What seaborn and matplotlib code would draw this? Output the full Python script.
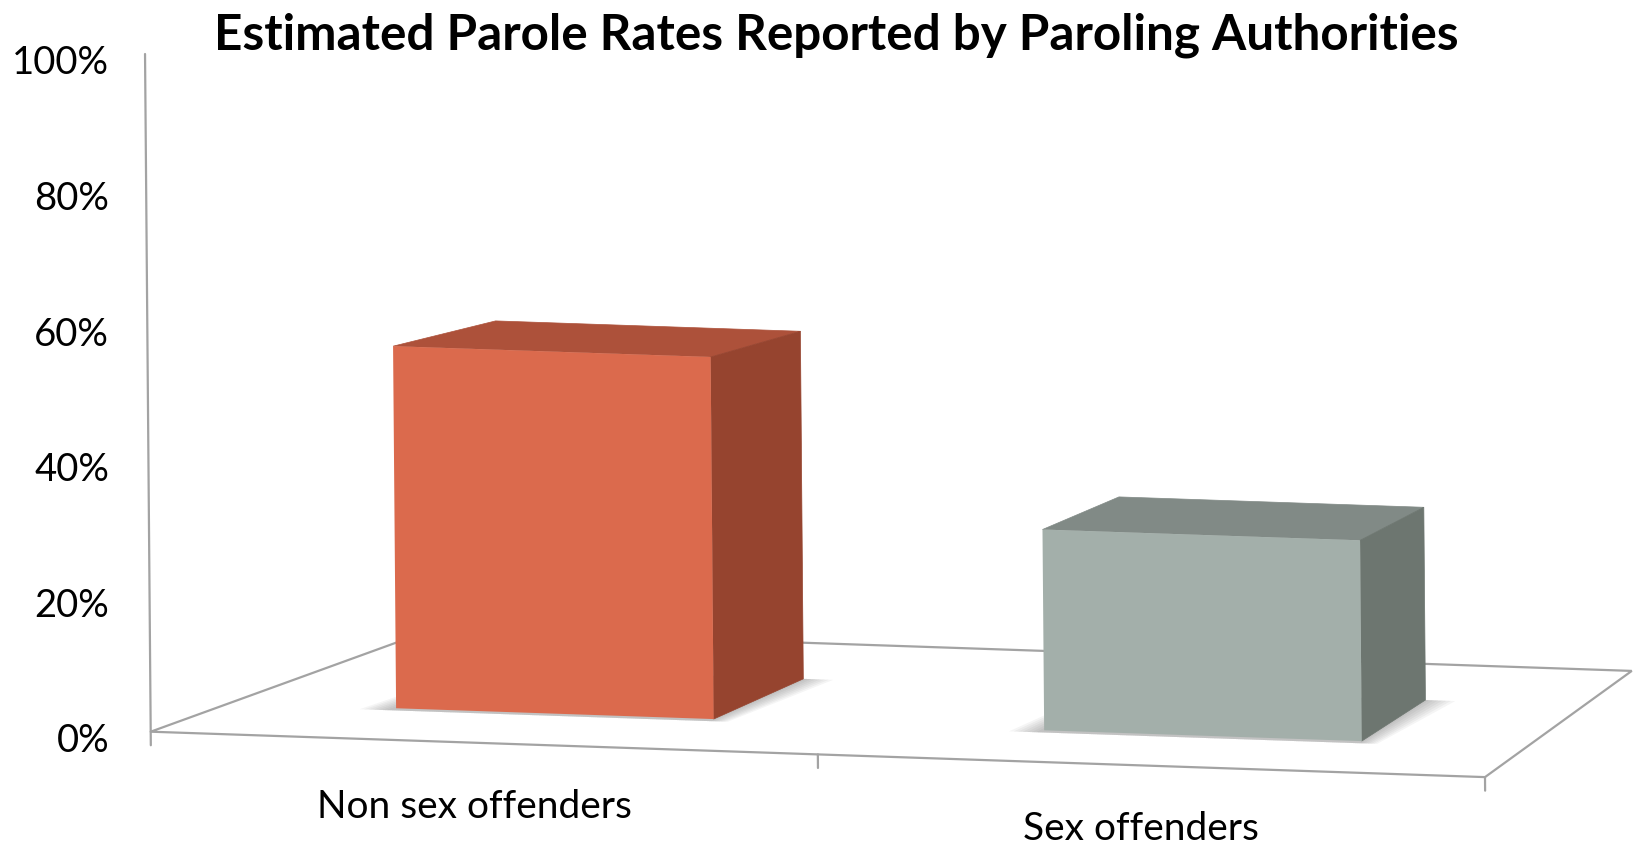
import numpy as np
import pandas as pd
import matplotlib
matplotlib.use("Agg")
import matplotlib.pyplot as plt
from matplotlib.patches import Polygon
from matplotlib.transforms import Affine2D, ScaledTranslation
import seaborn as sns

# ---- data -------------------------------------------------------------
categories = ["Non sex offenders", "Sex offenders"]
parole_rates = [0.55, 0.305]
front_colors = ["#DB6A4D", "#A3AFAA"]
top_colors = ["#AD513A", "#818A86"]
side_colors = ["#96442F", "#6D7670"]
y_ticks = [0.0, 0.2, 0.4, 0.6, 0.8, 1.0]
y_tick_labels = ["0%", "20%", "40%", "60%", "80%", "100%"]
title = "Estimated Parole Rates Reported by Paroling Authorities"

sns.set_theme(style="white")
plt.rcParams["font.family"] = ["Lato", "DejaVu Sans"]

W, H = 1644, 845
fig = plt.figure(figsize=(W / 100, H / 100), dpi=100)
fig.patch.set_facecolor("white")
ax = fig.add_axes([150.7 / W, (H - 732.7) / H, 1334.3 / W, 677.7 / H])

df = pd.DataFrame({"group": categories, "rate": parole_rates})
sns.barplot(data=df, x="group", y="rate", hue="group", palette=front_colors,
            width=0.49, saturation=1, linewidth=0, legend=False, ax=ax)
ax.set_xlim(-0.5, 1.5)
ax.set_ylim(0, 1)
bars = list(ax.patches)

# ---- pseudo-3D projection (front plane sheared, depth toward a vanishing point)
SHEAR_Y = 0.0335
SHEAR_X = -0.0085
VP = np.array([3.70, 1.50])
D_FRONT, D_BACK, D_FLOOR = 0.0286, 0.0675, 0.1
LINE = "#A3A3A3"


def project(x, y, d):
    sx = x + SHEAR_X * y
    sy = y - SHEAR_Y * (x + 0.5)
    return ((1 - d) * sx + d * VP[0], (1 - d) * sy + d * VP[1])


def plane(d):
    s = 1 - d
    return Affine2D(np.array([[s, s * SHEAR_X, d * VP[0]],
                              [-s * SHEAR_Y, s, -s * SHEAR_Y * 0.5 + d * VP[1]],
                              [0, 0, 1]]))


def poly(points, **kw):
    p = Polygon([project(*pt) for pt in points], closed=True,
                transform=ax.transData, clip_on=False, **kw)
    ax.add_patch(p)
    return p


# floor
poly([(-0.5, 0, 0), (1.5, 0, 0), (1.5, 0, D_FLOOR), (-0.5, 0, D_FLOOR)],
     facecolor="white", edgecolor=LINE, linewidth=1.6, zorder=1,
     joinstyle="miter")

# value axis line and category tick marks
ax.plot(*zip(project(-0.5, 0, 0), project(-0.5, 1, 0)), color=LINE,
        linewidth=1.6, clip_on=False, zorder=1)
for xt in (-0.5, 0.5, 1.5):
    ax.plot(*zip(project(xt, 0, 0), project(xt, -0.02, 0)), color=LINE,
            linewidth=1.6, clip_on=False, zorder=1)

# bars: front faces from seaborn, plus top and side faces
front = plane(D_FRONT) + ax.transData
for i, bar in enumerate(bars):
    x0, w, h = bar.get_x(), bar.get_width(), bar.get_height()
    x1 = x0 + w
    # soft contact shadow
    for k in range(7):
        e = 0.006 + 0.007 * k
        poly([(x0 - e, 0, D_FRONT - 0.002), (x1 + e * 0.6, 0, D_FRONT - 0.002),
              (x1 + e, 0, D_BACK), (x0 - e * 0.6, 0, D_BACK)],
             facecolor="#4A4A4A", edgecolor="none", alpha=0.055, zorder=2)
    bar.set_transform(front)
    bar.set_clip_on(False)
    bar.set_zorder(4)
    poly([(x0, h, D_FRONT), (x1, h, D_FRONT), (x1, h, D_BACK), (x0, h, D_BACK)],
         facecolor=top_colors[i], edgecolor=top_colors[i], linewidth=0.5, zorder=3)
    poly([(x1, 0, D_FRONT), (x1, h, D_FRONT), (x1, h, D_BACK), (x1, 0, D_BACK)],
         facecolor=side_colors[i], edgecolor=side_colors[i], linewidth=0.5, zorder=3)

# axes decoration
for s in ax.spines.values():
    s.set_visible(False)
ax.set_xlabel("")
ax.set_ylabel("")
ax.set_xticks([])
ax.set_yticks(y_ticks, y_tick_labels)
ax.tick_params(axis="y", length=0, pad=30, labelsize=27.5, labelcolor="black")
shift = ScaledTranslation(0, -5 / 100, fig.dpi_scale_trans)
for lbl in ax.get_yticklabels():
    lbl.set_transform(lbl.get_transform() + shift)

for i, name in enumerate(categories):
    ax.text(*project(i - 0.016, -0.093, 0), name, ha="center", va="center",
            fontsize=28, color="black", clip_on=False)

fig.text(836.7 / W, 1 - 49 / H, title, ha="center", va="baseline",
         fontsize=35.6, fontweight="bold", color="black")

fig.savefig("out.png", dpi=100, facecolor="white")
